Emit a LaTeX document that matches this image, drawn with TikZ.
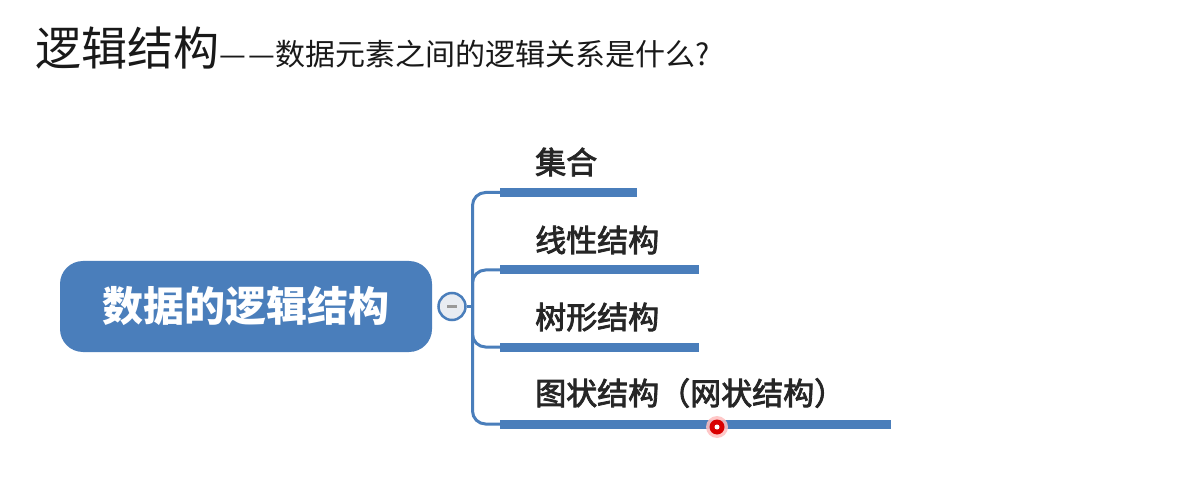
\documentclass[tikz,border=0pt]{standalone}
\usepackage{fontspec}
\setmainfont{Noto Sans CJK SC}
\newfontfamily\lblfont{Noto Sans CJK SC}[FakeBold=2.6]
\definecolor{mblue}{RGB}{74,126,187}
\definecolor{togfill}{RGB}{232,236,242}
\begin{document}
\begin{tikzpicture}[x=1pt,y=-1pt,
  root/.style={rectangle, rounded corners=23pt, fill=mblue, text=white,
    minimum width=372pt, minimum height=91pt, inner sep=0,
    font=\fontsize{41}{41}\selectfont\bfseries},
  toggle/.style={circle, draw=mblue, line width=2.5pt, fill=togfill,
    minimum size=27pt, inner sep=0},
  lbl/.style={anchor=west, inner sep=0, text=black!85,
    font=\lblfont\fontsize{31}{31}\selectfont},
  bar/.style={line width=9pt, mblue},
  link/.style={line width=3pt, mblue, rounded corners=13pt}]
\path[use as bounding box] (0,0) rectangle (1196,478);
\fill[white] (0,0) rectangle (1196,478);

% title
\node[anchor=base west, inner sep=0, text=black!90] (title) at (35,66) {\fontsize{46}{46}\selectfont 逻辑结构\fontsize{30}{30}\selectfont —\kern3pt—数据元素之间的逻辑关系是什么?};

% root and toggle
\node[root] (root) at (246,306.5) {数据的逻辑结构};
\node[toggle] (tog) at (452,306.5) {};
\draw[gray!80, line width=2.5pt] ([xshift=-5pt]tog.center) -- ([xshift=5pt]tog.center);

% coordinates
\coordinate (trunk) at (472.5,306.5);
\coordinate (b1s) at (500,192.5); \coordinate (b1e) at (637,192.5);
\coordinate (b2s) at (500,270);   \coordinate (b2e) at (699,270);
\coordinate (b3s) at (500,347);   \coordinate (b3e) at (699,347);
\coordinate (b4s) at (500,424);   \coordinate (b4e) at (891,424);

% connectors
\draw[link] (tog.east) -- (trunk);
\draw[link] (b1s) -| (trunk) |- (b4s);
\draw[link] (trunk) |- (b2s);
\draw[link] (trunk) |- (b3s);

% bars
\draw[bar] (b1s) -- (b1e);
\draw[bar] (b2s) -- (b2e);
\draw[bar] (b3s) -- (b3e);
\draw[bar] (b4s) -- (b4e);

% labels
\node[lbl] (l1) at (535,162) {集合};
\node[lbl] (l2) at (535,240) {线性结构};
\node[lbl] (l3) at (535,317) {树形结构};
\node[lbl] (l4) at (535,393) {图状结构（网状结构）};

% laser pointer dot
\fill[red!25, opacity=0.85] (717,427) circle[radius=11pt];
\fill[red!85!black] (717,427) circle[radius=7.5pt];
\fill[white] (717,427) circle[radius=2.5pt];
\end{tikzpicture}
\end{document}
